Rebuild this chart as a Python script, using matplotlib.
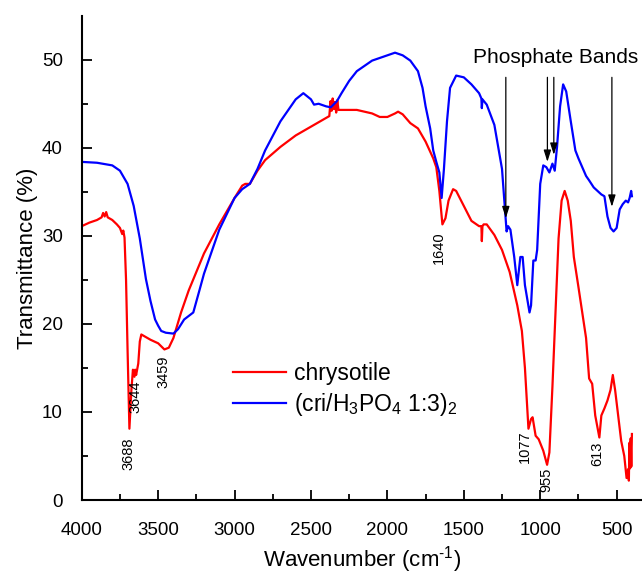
import numpy as np
import matplotlib.pyplot as plt

plt.rcParams['font.family'] = ['Liberation Sans', 'DejaVu Sans']
plt.rcParams['mathtext.fontset'] = 'custom'
plt.rcParams['mathtext.rm'] = 'Liberation Sans'
plt.rcParams['mathtext.it'] = 'Liberation Sans'

# chrysotile spectrum
wn_chry = [4000, 3950, 3900, 3870, 3860, 3850, 3840, 3830, 3800, 3770, 3750, 3735, 3728,
           3720, 3710, 3700, 3688, 3675, 3665, 3655, 3650, 3644, 3630, 3620, 3610, 3600,
           3550, 3500, 3459, 3430, 3400, 3350, 3300, 3250, 3200, 3100, 3000, 2950, 2930,
           2900, 2850, 2800, 2700, 2600, 2500, 2400, 2380, 2372, 2365, 2358, 2350, 2343,
           2335, 2328, 2320, 2300, 2200, 2100, 2050, 2000, 1950, 1930, 1900, 1850, 1800,
           1750, 1700, 1680, 1660, 1640, 1620, 1600, 1570, 1550, 1500, 1450, 1400, 1385,
           1382, 1378, 1370, 1350, 1300, 1250, 1200, 1150, 1120, 1100, 1077, 1060, 1050,
           1030, 1010, 980, 955, 940, 920, 900, 880, 860, 840, 820, 800, 780, 750, 700,
           680, 660, 640, 613, 600, 580, 560, 540, 525, 510, 490, 470, 450, 435, 425, 420,
           416, 412, 408, 404, 400]
tr_chry = [31.1, 31.5, 31.8, 32.1, 32.6, 32.2, 32.7, 32.1, 31.8, 31.3, 30.9, 30.2, 30.6,
           29.8, 25.0, 17.0, 8.1, 12.5, 14.8, 14.0, 14.8, 14.2, 15.5, 18.0, 18.8, 18.7,
           18.2, 17.8, 17.1, 17.3, 18.4, 21.3, 23.8, 25.9, 28.0, 31.3, 34.3, 35.7, 35.9,
           35.9, 37.4, 38.6, 40.1, 41.4, 42.4, 43.4, 43.6, 45.3, 44.2, 45.6, 44.4, 45.2,
           44.0, 45.4, 44.3, 44.3, 44.3, 43.9, 43.5, 43.5, 43.9, 44.1, 43.8, 42.8, 42.2,
           40.7, 38.8, 37.8, 35.1, 31.3, 32.0, 34.0, 35.3, 35.1, 33.4, 31.7, 31.1, 31.1,
           29.4, 31.1, 31.3, 31.3, 30.1, 28.4, 25.9, 22.1, 19.2, 15.0, 8.1, 9.2, 9.4,
           7.3, 6.9, 5.6, 4.0, 5.4, 12.9, 21.3, 29.7, 34.0, 35.1, 34.0, 31.7, 27.6, 24.2,
           18.4, 13.8, 13.2, 9.6, 7.1, 9.6, 10.4, 11.3, 12.5, 14.2, 12.5, 9.6, 6.7, 5.0,
           2.5, 3.5, 2.2, 6.5, 3.6, 7.0, 3.8, 7.5]

# (cri/H3PO4 1:3)2 spectrum
wn_phos = [4000, 3900, 3800, 3750, 3700, 3660, 3620, 3580, 3550, 3520, 3500, 3480, 3450,
           3400, 3370, 3330, 3300, 3270, 3230, 3200, 3100, 3000, 2950, 2900, 2850, 2800,
           2700, 2600, 2550, 2500, 2480, 2450, 2400, 2370, 2330, 2300, 2250, 2200, 2100,
           2000, 1950, 1900, 1850, 1800, 1770, 1750, 1720, 1700, 1680, 1660, 1645, 1630,
           1610, 1590, 1550, 1500, 1450, 1400, 1385, 1382, 1378, 1350, 1300, 1250, 1220,
           1210, 1195, 1170, 1150, 1130, 1115, 1100, 1070, 1060, 1045, 1030, 1020, 1000,
           980, 960, 940, 920, 905, 890, 870, 850, 830, 800, 770, 750, 700, 680, 650, 600,
           580, 560, 540, 520, 500, 480, 460, 440, 425, 415, 405, 400]
tr_phos = [38.4, 38.3, 38.0, 37.4, 35.9, 33.4, 29.7, 25.1, 22.6, 20.5, 19.8, 19.2, 19.0,
           18.9, 19.4, 20.5, 20.9, 21.3, 23.8, 25.7, 30.7, 34.3, 35.3, 35.9, 37.6, 39.7,
           43.0, 45.5, 46.2, 45.5, 44.9, 45.0, 44.7, 44.6, 45.3, 46.2, 47.6, 48.7, 49.9,
           50.5, 50.8, 50.5, 49.9, 48.7, 46.8, 44.7, 42.2, 39.7, 38.4, 37.2, 34.3, 37.6,
           43.0, 46.8, 48.2, 48.0, 47.2, 46.2, 45.6, 44.5, 45.5, 44.9, 42.6, 37.6, 30.5,
           31.1, 30.7, 27.6, 24.4, 27.6, 27.6, 24.4, 21.3, 22.1, 27.2, 27.2, 28.4, 35.9,
           38.0, 37.8, 37.2, 38.2, 37.4, 40.1, 44.7, 47.2, 46.4, 43.0, 39.7, 38.8, 36.8,
           36.3, 35.5, 34.7, 34.5, 32.2, 30.9, 30.5, 30.9, 33.0, 33.6, 34.0, 33.8, 34.3,
           35.1, 34.5]

# peak labels on the chrysotile curve
peak_labels = ["3688", "3644", "3459", "1640", "1077", "955", "613"]
peak_x = [3695, 3651, 3466, 1666, 1099, 957, 629]
peak_y = [5.3, 11.7, 14.6, 28.6, 6.1, 2.3, 5.3]

# phosphate band arrows
arrow_x = [1225, 953, 911, 531]
arrow_tip = [32.0, 38.4, 39.2, 33.3]
arrow_tail = 48.0

fig = plt.figure(figsize=(6.42, 5.77), dpi=100)
ax = fig.add_axes([0.1273, 0.1334, 0.8727, 0.8394])

ax.plot(wn_chry, tr_chry, color='#ff0000', lw=1.6, label='chrysotile')
ax.plot(wn_phos, tr_phos, color='#0000ff', lw=1.6,
        label=r'(cri/H$_3$PO$_4$ 1:3)$_2$')

for lab, x, y in zip(peak_labels, peak_x, peak_y):
    ax.text(x, y, lab, rotation=90, fontsize=10.5, ha='center', va='center')

for x, tip in zip(arrow_x, arrow_tip):
    ax.annotate('', xy=(x, tip), xytext=(x, arrow_tail),
                arrowprops=dict(arrowstyle='-|>,head_length=0.7,head_width=0.22',
                                color='black', lw=0.9, shrinkA=0, shrinkB=0))
ax.text(1439, 49.6, 'Phosphate Bands', fontsize=15, ha='left', va='baseline')

ax.set_xlim(4000, 334)
ax.set_ylim(0, 55)
ax.set_xticks([4000, 3500, 3000, 2500, 2000, 1500, 1000, 500])
ax.set_xticks(np.arange(3750, 300, -500), minor=True)
ax.set_yticks([0, 10, 20, 30, 40, 50])
ax.set_yticks([5, 15, 25, 35, 45], minor=True)

for s in ['top', 'right']:
    ax.spines[s].set_visible(False)
for s in ['left', 'bottom']:
    ax.spines[s].set_linewidth(1.5)

ax.tick_params(which='major', direction='in', length=7, width=1.3, labelsize=13.5)
ax.tick_params(which='minor', direction='in', length=4.5, width=1.3)
ax.tick_params(axis='y', which='major', pad=13.5)
ax.tick_params(axis='x', which='major', pad=15.5)

ax.set_xlabel(r'Wavenumber (cm$^{\text{-}1}$)', fontsize=16, labelpad=4)
ax.set_ylabel('Transmittance (%)', fontsize=16, labelpad=3)

ax.legend(loc='upper left', bbox_to_anchor=(0.27, 0.285), frameon=False,
          fontsize=16.5, handlelength=2.3, handletextpad=0.35, labelspacing=0.25,
          borderpad=0, borderaxespad=0)

plt.savefig('out.png', dpi=100)
